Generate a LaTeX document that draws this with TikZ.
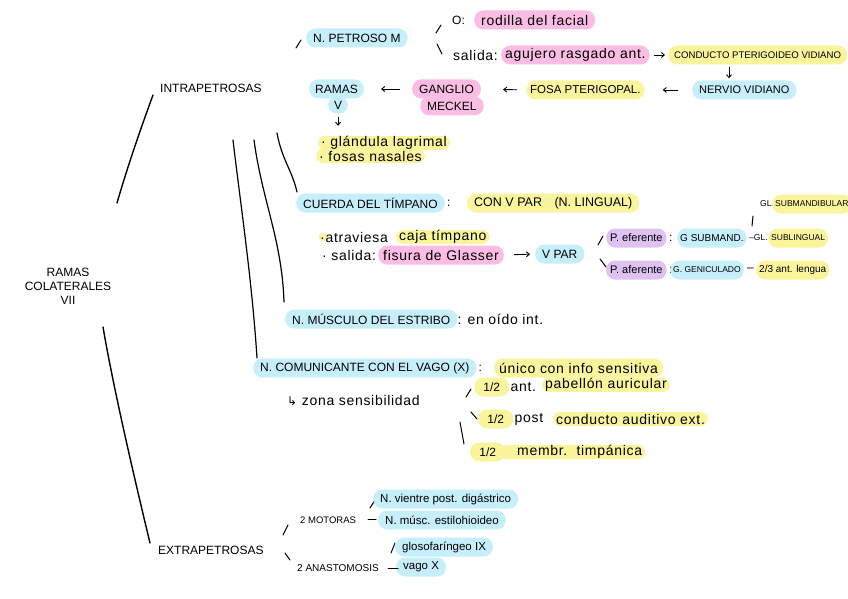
\documentclass[tikz,border=0pt]{standalone}
\usepackage{fontspec}
\setmainfont{Liberation Sans}
\newfontfamily\lowf[LetterSpace=5]{Liberation Sans}
\newfontfamily\symf{DejaVu Sans}
\usetikzlibrary{arrows.meta}
\definecolor{pblue}{HTML}{C6EFFB}
\definecolor{ppink}{HTML}{FBBDE3}
\definecolor{pyel}{HTML}{FAF59C}
\definecolor{ppur}{HTML}{DEC3F2}
\newcommand{\fcap}{\fontsize{12}{14}\selectfont}
\newcommand{\flow}{\lowf\fontsize{14}{16}\selectfont}
\newcommand{\fsm}{\fontsize{8.5}{10}\selectfont}
\newcommand{\fmid}{\fontsize{10}{12}\selectfont}
\newcommand{\fext}{\fontsize{11.5}{13}\selectfont}
\tikzset{
  lbl/.style={inner sep=0pt, anchor=west, font=\fcap},
  low/.style={lbl, font=\flow},
  pill/.style={rounded corners=9pt, inner xsep=7pt, inner ysep=0pt, minimum height=19pt, anchor=west, font=\fcap},
  spill/.style={pill, minimum height=14pt, rounded corners=7pt, inner xsep=3pt, font=\flow},
  bpill/.style={pill, fill=pblue},
  ppill/.style={pill, fill=ppink},
  ypill/.style={pill, fill=pyel},
  vpill/.style={pill, fill=ppur},
  half/.style={ypill, minimum width=35pt, inner xsep=4pt},
  stroke/.style={line width=1.4pt, line cap=round},
  tick/.style={line width=1pt, line cap=round},
  arr/.style={-{Straight Barb[length=3pt,width=5pt]}, line width=0.9pt},
}
\begin{document}
\begin{tikzpicture}[x=1pt,y=-1pt]
\useasboundingbox (0,0) rectangle (848,599);
% root and main branches
\node[lbl, anchor=center, align=center, font=\fcap] (root) at (68,286) {RAMAS\\COLATERALES\\VII};
\node[lbl] (intra) at (160,88) {INTRAPETROSAS};
\node[lbl] (extra) at (158,550) {EXTRAPETROSAS};
\coordinate (u1) at (117,203); \coordinate (u2) at (153,95);
\coordinate (l1) at (103,327); \coordinate (l2) at (150,543);
\draw[stroke] (u1) .. controls (128,165) and (142,125) .. (u2);
\draw[stroke] (l1) .. controls (112,380) and (130,460) .. (l2);
\draw[stroke, line width=1.2pt] (233,140) .. controls (240,200) and (252,280) .. (257,358);
\draw[stroke, line width=1.2pt] (254,140) .. controls (262,200) and (282,240) .. (284,302);
\draw[stroke, line width=1.2pt] (277,133) .. controls (282,160) and (292,170) .. (297,192);

% petroso mayor
\node[bpill] (petroso) at (306,38) {N. PETROSO M};
\draw[tick] (296,48) -- (301,40);
\draw[tick] (436,33) -- (441,25);
\draw[tick] (437,44) -- (442,54);
\node[lbl] (o) at (452,20) {O:};
\node[ppill, font=\flow] (rodilla) at (474,20) {rodilla del facial};
\node[low] (sal1) at (453,55) {salida:};
\node[ppill, font=\flow, inner xsep=4pt] (agujero) at (501,55) {agujero rasgado ant.};
\node[ypill, font=\fontsize{9.6}{11}\selectfont, inner xsep=6pt] (conducto) at (668,55) {CONDUCTO PTERIGOIDEO VIDIANO};
\draw[arr, shorten <=4pt, shorten >=3pt] (agujero.east) -- (conducto.west);
\node[bpill, font=\fontsize{11}{13}\selectfont] (vidiano) at (692,90) {NERVIO VIDIANO};
\draw[arr, shorten <=2pt, shorten >=2pt] (conducto.south -| 729,0) -- (vidiano.north -| 729,0);
\node[ypill, font=\fontsize{11.5}{13}\selectfont, inner xsep=4pt] (fosa) at (526,90) {FOSA PTERIGOPAL.};
\draw[arr, shorten <=14pt, shorten >=18pt] (vidiano.west) -- (fosa.east);
\node[ppill] (meckel) at (420,106) {MECKEL};
\node[ppill] (ganglio) at (412,89) {GANGLIO};
\draw[arr, shorten <=9pt, shorten >=22pt] (fosa.west) -- (ganglio.east);
\node[bpill, inner xsep=6pt] (ramas) at (309,89) {RAMAS};
\node[bpill, anchor=center, minimum width=20pt, minimum height=17pt, inner xsep=2pt] (v5) at (338,105) {V};
\draw[arr, shorten <=12pt, shorten >=17pt] (ganglio.west) -- (ramas.east);
\node[spill, fill=pyel] (lagr) at (318,143) {· glándula lagrimal};
\node[spill, fill=pyel] (nasal) at (316,156) {· fosas nasales};
\draw[arr, shorten <=3pt, shorten >=10pt] (v5.south) -- (lagr.north -| v5.south);

% cuerda del timpano
\node[bpill] (cuerda) at (296,203) {CUERDA DEL TÍMPANO};
\node[lbl] (c1) at (cuerda.east) {\,:};
\node[ypill, font=\fontsize{12.5}{14}\selectfont] (conv) at (467,203) {CON V PAR\quad (N. LINGUAL)};
\node[circle, fill=pyel, inner sep=3pt] (bul) at (323,237) {};
\node[low] (atrav) at (320,237) {·atraviesa};
\node[spill, fill=pyel] (caja) at (396,237) {caja tímpano};
\node[low] (sal2) at (322,255) {· salida:};
\node[ppill, font=\flow, inner xsep=5pt] (fisura) at (378,255) {fisura de Glasser};
\node[bpill] (vpar) at (535,254) {V PAR};
\draw[arr, shorten <=10pt, shorten >=5pt] (fisura.east) -- (vpar.west);
\draw[tick] (598,245) -- (603,236);
\draw[tick] (600,259) -- (606,267);
\node[vpill, font=\fontsize{11}{13}\selectfont, inner xsep=4pt] (efer) at (606,238) {P. eferente};
\node[lbl] (c2) at (efer.east) {\,:};
\node[bpill, inner xsep=3pt, font=\fmid] (gsub) at (677,238) {G SUBMAND.};
\node[lbl, font=\fsm] (d1) at (749,238) {–GL.};
\node[ypill, inner xsep=3pt, font=\fsm] (subl) at (768,238) {SUBLINGUAL};
\node[lbl, font=\fsm] (gl2) at (760,204) {GL.};
\node[ypill, inner xsep=3pt, font=\fsm] (subm) at (772,204) {SUBMANDIBULAR};
\draw[tick] (753,216) -- (752,226);
\node[vpill, font=\fontsize{11}{13}\selectfont, inner xsep=4pt] (afer) at (606,270) {P. aferente};
\node[lbl] (c3) at (afer.east) {\,:};
\node[bpill, inner xsep=3pt, font=\fsm] (ggen) at (670,270) {G. GENICULADO};
\node[lbl] (d2) at (747,270) {–};
\node[ypill, inner xsep=3pt, font=\fmid] (lengua) at (756,270) {2/3 ant. lengua};

% estribo
\node[bpill] (estribo) at (285,319) {N. MÚSCULO DEL ESTRIBO};
\node[low] (oido) at (estribo.east) {: en oído int.};

% comunicante
\node[bpill] (comun) at (253,368) {N. COMUNICANTE CON EL VAGO (X)};
\node[lbl] (c4) at (comun.east) {\,:};
\node[ypill, font=\flow, inner xsep=5pt] (unico) at (494,368) {único con info sensitiva};
\node[low] (zona) at (287,401) {{\symf\fontsize{12}{14}\selectfont ↳} zona sensibilidad};
\draw[tick] (466,397) -- (471,389);
\draw[tick] (471,412) -- (477,419);
\draw[tick] (460,422) -- (464,444);
\node[half] (h1) at (474,387) {1/2};
\node[low] (ant) at ([xshift=1pt]h1.east) {ant.};
\node[spill, fill=pyel] (pab) at (542,385) {pabellón auricular};
\node[half] (h2) at (478,419) {1/2};
\node[low] (post) at ([xshift=1pt]h2.east) {post};
\node[spill, fill=pyel] (cae) at (553,419) {conducto auditivo ext.};
\node[spill, fill=pyel] (membr) at (500,452) {\quad membr.\ \ timpánica};
\node[half] (h3) at (470,452) {1/2};

% extrapetrosas
\draw[tick] (283,535) -- (288,525);
\draw[tick] (285,553) -- (290,560);
\node[lbl, font=\fontsize{9.5}{11}\selectfont] (motoras) at (300,520) {2 MOTORAS};
\draw[tick] (370,508) -- (375,500);
\node[bpill, font=\fext] (estilo) at (378,520) {N. músc. estilohioideo};
\node[bpill, font=\fext] (vientre) at (373,499) {N. vientre post. digástrico};
\draw[tick] (368,519) -- (376,519);
\node[lbl, font=\fontsize{10}{12}\selectfont] (anast) at (297,568) {2 ANASTOMOSIS};
\draw[tick] (391,553) -- (395,543);
\node[bpill, font=\fext] (vago) at (396,567) {vago X};
\node[bpill, font=\fext] (glos) at (395,547) {glosofaríngeo IX};
\draw[tick] (388,568) -- (398,568);
\end{tikzpicture}
\end{document}
